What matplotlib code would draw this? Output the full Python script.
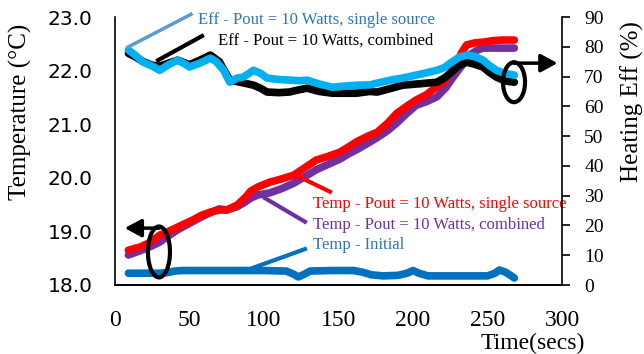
import numpy as np
import matplotlib
matplotlib.use("Agg")
import matplotlib.pyplot as plt
from matplotlib.patches import Ellipse
from matplotlib.ticker import FormatStrFormatter

# ---- data ----
t_red = [9, 17, 24, 30, 36, 42, 52, 58, 64, 70, 75, 82, 88, 91, 96, 104, 112, 120, 128, 135,
         143, 151, 157, 162, 170, 176, 183, 189, 195, 202, 209, 215, 220, 225, 229, 233, 236,
         242, 247, 254, 260, 268]
temp_single = [18.65, 18.71, 18.80, 18.93, 19.00, 19.08, 19.21, 19.30, 19.36, 19.40, 19.40, 19.49,
               19.65, 19.75, 19.83, 19.92, 19.98, 20.05, 20.20, 20.33, 20.40, 20.48, 20.58, 20.67,
               20.78, 20.85, 21.02, 21.20, 21.32, 21.45, 21.55, 21.68, 21.77, 21.95, 22.14, 22.35,
               22.48, 22.52, 22.53, 22.56, 22.57, 22.57]

t_purple = [9, 17, 24, 30, 36, 42, 52, 58, 64, 70, 75, 82, 88, 91, 96, 104, 112, 120, 128, 135,
            143, 151, 157, 162, 170, 176, 183, 189, 195, 202, 209, 216, 222, 227, 233, 238, 243,
            247, 255, 268]
temp_combined = [18.56, 18.64, 18.72, 18.80, 18.92, 19.03, 19.18, 19.27, 19.35, 19.42, 19.40, 19.46,
                 19.56, 19.62, 19.68, 19.72, 19.80, 19.90, 20.03, 20.15, 20.25, 20.35, 20.45, 20.52,
                 20.65, 20.75, 20.88, 21.02, 21.18, 21.35, 21.42, 21.51, 21.68, 21.88, 22.10, 22.29,
                 22.38, 22.42, 22.42, 22.42]

t_init = [9, 20, 30, 35, 40, 45, 60, 80, 100, 115, 120, 123, 127, 131, 145, 160, 166, 172, 180,
          190, 196, 200, 204, 210, 230, 250, 255, 258, 262, 266, 268]
temp_initial = [18.22, 18.22, 18.22, 18.23, 18.26, 18.27, 18.27, 18.27, 18.27, 18.26, 18.20, 18.15,
                18.20, 18.26, 18.27, 18.27, 18.24, 18.19, 18.17, 18.18, 18.22, 18.27, 18.22, 18.17,
                18.17, 18.17, 18.22, 18.28, 18.24, 18.17, 18.13]

t_cyan = [9, 14, 19, 25, 30, 36, 42, 46, 50, 57, 64, 68, 73, 77, 82, 86, 93, 98, 102, 110, 117,
          124, 129, 137, 146, 154, 162, 171, 176, 185, 193, 205, 216, 221, 225, 231, 236, 241,
          247, 251, 256, 262, 268]
eff_single = [78.9, 77.0, 74.8, 73.5, 72.1, 74.0, 75.5, 74.5, 73.2, 74.5, 76.2, 75.0, 72.1, 68.1,
              69.5, 69.8, 72.1, 71.0, 69.5, 69.0, 68.8, 68.6, 68.8, 67.5, 66.4, 66.8, 67.1, 67.2,
              67.8, 68.8, 69.5, 70.8, 72.1, 73.0, 74.5, 76.5, 77.2, 76.8, 75.5, 73.8, 72.1, 71.0,
              70.5]

t_black = [9, 14, 19, 25, 30, 36, 42, 50, 57, 64, 70, 77, 84, 93, 98, 102, 110, 117, 123, 129,
           137, 146, 154, 162, 171, 176, 185, 193, 205, 216, 221, 225, 231, 236, 241, 247, 251,
           256, 262, 268]
eff_combined = [77.8, 76.5, 75.0, 73.8, 73.5, 74.5, 75.5, 74.0, 75.5, 77.2, 75.0, 68.8, 68.1, 67.1,
                66.0, 64.8, 64.6, 64.8, 65.5, 66.1, 65.0, 64.4, 64.4, 64.4, 65.0, 64.8, 66.0, 67.1,
                67.6, 68.1, 69.5, 71.1, 73.8, 74.8, 74.2, 73.2, 71.5, 69.8, 68.5, 68.1]

x_ticks = [0, 50, 100, 150, 200, 250, 300]
temp_ticks = [18.0, 19.0, 20.0, 21.0, 22.0, 23.0]
eff_ticks = [0, 10, 20, 30, 40, 50, 60, 70, 80, 90]

SERIF = "Liberation Serif"
LW = 5.5

fig = plt.figure(figsize=(6.44, 3.54), dpi=100)
ax = fig.add_axes([115 / 644, 1 - 285 / 354, (562 - 115) / 644, (285 - 17) / 354])
ax2 = ax.twinx()

# temperature lines
ax.plot(t_init, temp_initial, color="#0070C0", lw=LW, solid_capstyle="round", zorder=2)
ax.plot(t_purple, temp_combined, color="#7030A0", lw=LW, solid_capstyle="round", zorder=3)
ax.plot(t_red, temp_single, color="#FF0000", lw=LW, solid_capstyle="round", zorder=4)

# efficiency lines
ax2.plot(t_black, eff_combined, color="#000000", lw=LW, solid_capstyle="round", zorder=3)
ax2.plot(t_cyan, eff_single, color="#00B0F0", lw=LW, solid_capstyle="round", zorder=4)

ax.set_xlim(0, 300)
ax.set_ylim(18, 23)
ax2.set_ylim(0, 90)
ax.set_xticks(x_ticks)
ax.set_yticks(temp_ticks)
ax2.set_yticks(eff_ticks)
ax.yaxis.set_major_formatter(FormatStrFormatter("%.1f"))

for a in (ax, ax2):
    a.spines["top"].set_visible(False)
    for s in a.spines.values():
        s.set_linewidth(1.2)
ax2.spines["left"].set_visible(False)
ax.spines["right"].set_visible(False)

ax.tick_params(axis="y", length=0, pad=16, labelsize=14.5)
ax.tick_params(axis="x", length=0, pad=18, labelsize=17)
ax2.tick_params(axis="y", direction="out", length=6, width=1.2, pad=10, labelsize=14)
for lab in ax.get_yticklabels():
    lab.set_fontfamily("DejaVu Sans")
for lab in ax.get_xticklabels() + ax2.get_yticklabels():
    lab.set_fontfamily(SERIF)

fig.text(585 / 644, 1 - 343 / 354, "Time(secs)", family=SERIF, fontsize=17,
         ha="right", va="center")
fig.text(20 / 644, 1 - 112 / 354, "Temperature (°C)", family=SERIF, fontsize=18,
         rotation=90, ha="center", va="center")
fig.text(632 / 644, 1 - 102 / 354, "Heating Eff (%)", family=SERIF, fontsize=18,
         rotation=90, ha="center", va="center")

# callouts for the efficiency series
ax2.plot([8.7, 51.0], [79.9, 90.9], color="#5B9BD5", lw=2.5, clip_on=False, zorder=5)
ax2.text(55.7, 88.9, "Eff - Pout = 10 Watts, single source", color="#2E75B6",
         family=SERIF, fontsize=12, ha="left", va="center")
ax2.plot([28.9, 58.4], [75.5, 83.6], color="black", lw=3, clip_on=False, zorder=5)
ax2.text(69.1, 81.9, "Eff - Pout = 10 Watts, combined", color="black",
         family=SERIF, fontsize=12, ha="left", va="center")

# callouts for the temperature series
ax.plot([124.2, 144.3], [20.01, 19.74], color="#FF0000", lw=3, zorder=5)
ax.text(132.9, 19.51, "Temp - Pout = 10 Watts, single source", color="#FF0000",
        family=SERIF, fontsize=12, ha="left", va="center", zorder=6)
ax.plot([100.7, 127.5], [19.62, 19.18], color="#7030A0", lw=3, zorder=5)
ax.text(132.9, 19.12, "Temp - Pout = 10 Watts, combined", color="#7030A0",
        family=SERIF, fontsize=12, ha="left", va="center", zorder=6)
ax.plot([92.6, 127.5], [18.32, 18.67], color="#0070C0", lw=3, zorder=5)
ax.text(132.9, 18.75, "Temp - Initial", color="#2E75B6",
        family=SERIF, fontsize=12, ha="left", va="center", zorder=6)

# axis indicator ellipses and arrows
arrow = dict(arrowstyle="-|>,head_length=0.63,head_width=0.34",
             mutation_scale=16, color="black", lw=2.5, shrinkA=0, shrinkB=0)
ax2.add_patch(Ellipse((29.5, 11.1), 14.8, 17.1, fill=False, ec="black", lw=3, zorder=6))
ax2.annotate("", xy=(6.5, 19.1), xytext=(29.5, 19.1), arrowprops=arrow, zorder=6)
ax2.add_patch(Ellipse((267.8, 68.1), 14.8, 13.4, fill=False, ec="black", lw=3,
                      zorder=6, clip_on=False))
ax2.annotate("", xy=(297.0, 74.5), xytext=(267.8, 74.5), annotation_clip=False,
             arrowprops=arrow, zorder=6)

fig.savefig("out.png", dpi=100)
